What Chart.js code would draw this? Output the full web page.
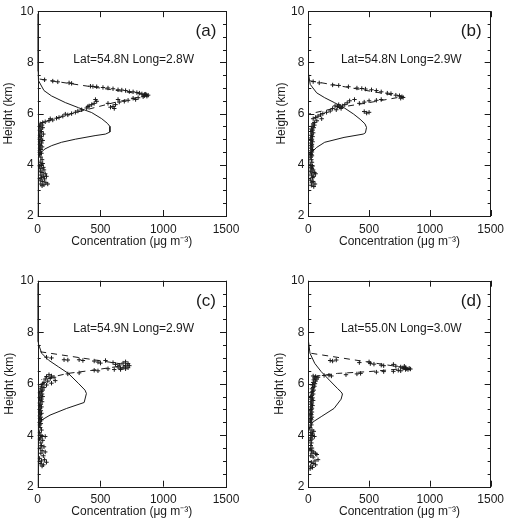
<!DOCTYPE html>
<html>
<head>
<meta charset="utf-8">
<script src="https://cdn.jsdelivr.net/npm/chart.js@4.4.1/dist/chart.umd.min.js"></script>
<style>
  body { margin: 0; background: #fff; }
  #wrap { position: relative; width: 510px; height: 520px; }
  canvas { position: absolute; }
</style>
</head>
<body>
<div id="wrap">
  <canvas id="pa" width="255" height="260" style="left:0;top:0"></canvas>
  <canvas id="pb" width="255" height="260" style="left:255px;top:0"></canvas>
  <canvas id="pc" width="255" height="260" style="left:0;top:260px"></canvas>
  <canvas id="pd" width="255" height="260" style="left:255px;top:260px"></canvas>
</div>
<script>
// panel tags and site labels
const tags = ['(a)', '(b)', '(c)', '(d)'];
const sites = ['Lat=54.8N Long=2.8W', 'Lat=54.8N Long=2.9W', 'Lat=54.9N Long=2.9W', 'Lat=55.0N Long=3.0W'];
const xTicks = [0, 500, 1000, 1500];
const yTicks = [2, 4, 6, 8, 10];

// solid line: modelled profile [conc, height]
const modelA = [[0,9.9],[0,7.65],[5,7.3],[50,6.9],[110,6.69],[220,6.43],[325,6.23],[430,6.04],[510,5.8],[555,5.62],[575,5.5],[575,5.28],[540,5.2],[457,5.14],[300,5.0],[190,4.88],[112,4.75],[58,4.62],[30,4.5],[5,4.3],[0,2]];
const modelB = [[0,9.9],[0,7.6],[16,7.14],[69,6.81],[135,6.62],[214,6.43],[294,6.23],[373,5.98],[426,5.78],[466,5.6],[479,5.46],[470,5.25],[452,5.2],[294,5.07],[135,4.88],[69,4.68],[29,4.49],[5,4.35],[0,2]];
const modelC = [[0,9.9],[0,7.63],[32,7.18],[85,6.92],[164,6.66],[244,6.4],[323,6.02],[377,5.75],[388,5.62],[370,5.27],[231,5.04],[98,4.78],[32,4.59],[5,4.46],[0,2]];
const modelD = [[0,9.9],[0,7.7],[14,7.18],[53,6.79],[106,6.47],[173,6.14],[239,5.82],[270,5.68],[281,5.6],[270,5.4],[212,5.04],[106,4.72],[40,4.52],[14,4.33],[0,4.1],[0,2]];

// dashed line
const dashA = [[15,7.35],[880,6.72],[600,6.42],[300,6.04],[20,5.63]];
const dashB = [[15,7.28],[775,6.66],[500,6.43],[240,6.23],[0,5.98]];
const dashC = [[20,7.24],[720,6.73],[450,6.53],[240,6.4],[30,6.16]];
const dashD = [[25,7.18],[825,6.6],[500,6.47],[240,6.4],[25,6.27]];

// + observations
const obsA = [[55,7.32],[120,7.27],[160,7.24],[250,7.2],[270,7.18],[420,7.07],[440,7.06],[470,7.05],[520,7.02],[560,7.0],[600,6.97],[640,6.93],[670,6.92],[700,6.9],[730,6.86],[760,6.85],[790,6.82],[810,6.8],[830,6.77],[850,6.75],[865,6.73],[880,6.72],[870,6.68],[850,6.7],[860,6.76],[840,6.66],
  [800,6.62],[780,6.55],[760,6.6],[720,6.52],[690,6.48],[650,6.45],[620,6.35],[600,6.28],[580,6.25],[610,6.2],[560,6.4],[640,6.55],[470,6.48],[450,6.4],[430,6.35],[410,6.3],[400,6.28],[390,6.22],[460,6.55],[350,6.15],[320,6.1],[300,6.05],[270,6.0],[240,5.95],[200,5.9],[170,5.85],[150,5.82],[120,5.75],[90,5.72],[60,5.68],[40,5.65],[100,5.8],[220,5.98],
  [20,5.6],[35,5.55],[15,5.5],[40,5.45],[25,5.4],[10,5.35],[30,5.3],[20,5.25],[45,5.2],[15,5.15],[30,5.1],[10,5.05],[25,5.0],[40,4.95],[15,4.9],[30,4.85],[10,4.8],[20,4.75],[35,4.7],[15,4.65],[25,4.6],[10,4.55],[20,4.5],[30,4.45],[15,4.4],[25,4.3],[35,4.2],[20,4.1],[40,4.05],[30,4.0],[15,3.95],[45,3.9],[25,3.85],[50,3.8],[20,3.75],[35,3.7],[60,3.65],[25,3.6],[45,3.55],[70,3.55],[30,3.5],[55,3.45],[20,3.4],[40,3.35],[65,3.3],[25,3.25],[50,3.22],[80,3.25],[35,3.18]];
const obsB = [[40,7.25],[90,7.2],[200,7.12],[250,7.1],[330,7.05],[400,7.0],[440,6.98],[470,6.96],[520,6.93],[560,6.9],[600,6.85],[650,6.8],[680,6.78],[720,6.72],[750,6.7],[770,6.66],[780,6.63],[760,6.6],
  [600,6.55],[560,6.52],[500,6.5],[460,6.45],[420,6.4],[320,6.42],[340,6.5],[380,6.55],[300,6.35],[280,6.3],[260,6.25],[240,6.28],[220,6.3],[200,6.2],[230,6.15],[270,6.2],[250,6.35],[460,6.08],[480,6.02],[500,6.05],[180,6.1],[150,6.05],[120,6.0],[100,5.95],[80,5.9],[60,5.85],[110,5.8],[40,5.8],[70,5.72],[50,5.65],
  [40,5.6],[50,5.55],[30,5.5],[45,5.45],[25,5.4],[35,5.35],[20,5.3],[40,5.25],[30,5.2],[25,5.15],[35,5.1],[20,5.05],[30,5.0],[25,4.95],[35,4.9],[20,4.85],[30,4.8],[25,4.75],[30,4.7],[20,4.65],[35,4.6],[25,4.55],[30,4.5],[20,4.45],[25,4.4],[30,4.35],[20,4.3],[25,4.2],[30,4.1],[20,4.0],[35,3.95],[25,3.9],[30,3.85],[40,3.8],[20,3.75],[50,3.7],[30,3.68],[60,3.65],[25,3.6],[45,3.55],[35,3.5],[20,3.4],[40,3.35],[30,3.3],[55,3.25],[25,3.2],[45,3.15]];
const obsC = [[70,7.03],[110,7.0],[210,6.93],[240,6.92],[330,6.93],[360,6.9],[450,6.88],[480,6.84],[500,6.8],[540,6.9],[600,6.82],[620,6.75],[650,6.72],[680,6.8],[700,6.85],[720,6.78],[730,6.7],[700,6.68],[680,6.62],[660,6.6],[640,6.65],[700,6.58],[720,6.62],[660,6.55],[610,6.55],[560,6.58],[480,6.5],[450,6.52],[330,6.42],[240,6.38],
  [90,6.35],[110,6.3],[70,6.28],[130,6.25],[100,6.2],[60,6.18],[140,6.12],[80,6.1],[50,6.05],[110,6.02],[40,6.0],[70,5.95],[30,5.9],[50,5.85],[20,5.8],[40,5.75],[30,5.7],[15,5.65],[35,5.6],[25,5.55],[40,5.5],[15,5.45],[30,5.4],[20,5.35],[35,5.3],[10,5.25],[25,5.2],[15,5.15],[30,5.1],[20,5.05],[10,5.0],[25,4.95],[15,4.9],[30,4.85],[20,4.8],[10,4.75],[25,4.7],[15,4.65],[30,4.6],[20,4.55],[10,4.5],[25,4.45],[15,4.4],[20,4.3],[30,4.2],[15,4.1],[25,4.0],[35,3.95],[20,3.9],[60,3.95],[15,3.85],[40,3.8],[25,3.7],[30,3.6],[50,3.55],[20,3.5],[35,3.4],[60,3.35],[25,3.3],[45,3.2],[15,3.1],[55,3.05],[30,3.0],[70,2.95],[20,2.9],[45,2.85],[35,2.8]];
const obsD = [[180,6.9],[200,6.88],[230,6.92],[420,6.82],[500,6.85],[510,6.78],[540,6.76],[600,6.72],[620,6.7],[700,6.75],[720,6.68],[760,6.65],[790,6.68],[800,6.62],[810,6.58],[820,6.55],[830,6.6],[800,6.55],[840,6.57],[780,6.6],
  [130,6.32],[170,6.33],[190,6.3],[310,6.35],[400,6.38],[430,6.4],[560,6.45],[620,6.47],[700,6.48],[740,6.52],[760,6.5],
  [40,6.3],[60,6.28],[80,6.25],[50,6.22],[70,6.18],[45,6.15],[60,6.1],[40,6.05],[55,6.0],[35,5.95],[50,5.9],[40,5.85],[30,5.8],[45,5.75],[35,5.7],[25,5.65],[40,5.6],[30,5.55],[20,5.5],[35,5.45],[25,5.4],[40,5.35],[20,5.3],[30,5.25],[25,5.2],[35,5.15],[20,5.1],[30,5.05],[25,5.0],[15,4.95],[30,4.9],[20,4.85],[25,4.8],[15,4.75],[30,4.7],[20,4.65],[25,4.6],[15,4.55],[20,4.5],[25,4.4],[15,4.3],[30,4.2],[45,4.15],[20,4.1],[35,4.05],[25,4.0],[50,3.95],[20,3.9],[30,3.85],[15,3.8],[25,3.7],[20,3.6],[30,3.5],[15,3.45],[25,3.4],[45,3.35],[30,3.3],[60,3.28],[70,3.25],[20,3.2],[40,3.15],[80,3.05],[55,3.0],[25,2.95],[40,2.9],[60,2.85],[20,2.8],[35,2.75],[15,2.7]];

const models = [modelA, modelB, modelC, modelD];
const dashes = [dashA, dashB, dashC, dashD];
const obs = [obsA, obsB, obsC, obsD];

// layout per panel: padding and axis box sizes so the plot frames line up
const layouts = [
  { pad: { left: 1, top: 9.5, right: 29, bottom: 11 }, yw: 36.7, xh: 33 },
  { pad: { left: 19.5, top: 9.5, right: 13, bottom: 11 }, yw: 33.8, xh: 33 },
  { pad: { left: 2.8, top: 20.7, right: 29, bottom: 1.1 }, yw: 34.9, xh: 32.2 },
  { pad: { left: 17.8, top: 20.7, right: 13, bottom: 1.1 }, yw: 35.5, xh: 32.2 }
];

const FONT = "'Liberation Sans', Arial, sans-serif";
const INK = '#1a1a1a';
const toPts = arr => arr.map(p => ({ x: p[0], y: p[1] }));

const framePlugin = {
  id: 'frame',
  afterDatasetsDraw(chart, args, opts) {
    const { ctx, chartArea: a, scales: { x, y } } = chart;
    ctx.save();
    ctx.strokeStyle = INK;
    ctx.lineWidth = 1;
    ctx.strokeRect(Math.round(a.left) + 0.5, Math.round(a.top) + 0.5, Math.round(a.right - a.left), Math.round(a.bottom - a.top));
    ctx.beginPath();
    xTicks.forEach(v => {
      const px = Math.round(x.getPixelForValue(v)) + 0.5;
      ctx.moveTo(px, a.bottom); ctx.lineTo(px, a.bottom - 6);
      ctx.moveTo(px, a.top); ctx.lineTo(px, a.top + 6);
    });
    for (let v = 2; v <= 10; v += 0.5) {
      const py = Math.round(y.getPixelForValue(v)) + 0.5;
      const len = v % 2 === 0 ? 6 : 3;
      ctx.moveTo(a.left, py); ctx.lineTo(a.left + len, py);
      ctx.moveTo(a.right, py); ctx.lineTo(a.right - len, py);
    }
    ctx.stroke();

    ctx.fillStyle = INK;
    ctx.textAlign = 'center';
    ctx.textBaseline = 'middle';
    ctx.font = '17px ' + FONT;
    ctx.fillText(opts.tag, x.getPixelForValue(1340), y.getPixelForValue(9.2));
    ctx.font = '12px ' + FONT;
    ctx.fillText(opts.site, x.getPixelForValue(765), y.getPixelForValue(8.12));
    ctx.restore();
  }
};

function makePanel(id, i) {
  const lay = layouts[i];
  new Chart(document.getElementById(id), {
    type: 'scatter',
    data: {
      datasets: [
        { data: toPts(models[i]), showLine: true, borderColor: INK, borderWidth: 1, pointRadius: 0, fill: false },
        { data: toPts(dashes[i]), showLine: true, borderColor: INK, borderWidth: 1, borderDash: [6, 5], pointRadius: 0, fill: false },
        { data: toPts(obs[i]), showLine: false, pointStyle: 'cross', pointRadius: 2.2, borderColor: INK, borderWidth: 1 }
      ]
    },
    options: {
      responsive: false,
      animation: false,
      events: [],
      layout: { padding: lay.pad },
      plugins: {
        legend: { display: false },
        tooltip: { enabled: false },
        frame: { tag: tags[i], site: sites[i] }
      },
      scales: {
        x: {
          type: 'linear', min: 0, max: 1500,
          afterBuildTicks: s => { s.ticks = xTicks.map(v => ({ value: v })); },
          afterFit: s => { s.height = lay.xh; },
          grid: { display: false, drawTicks: false },
          border: { display: false },
          ticks: { padding: 6, color: INK, font: { family: FONT, size: 12 }, callback: v => String(v) },
          title: { display: true, text: 'Concentration (\u03bcg m\u207b\u00b3)', color: INK, padding: 0, font: { family: FONT, size: 12 } }
        },
        y: {
          type: 'linear', min: 2, max: 10,
          afterBuildTicks: s => { s.ticks = yTicks.map(v => ({ value: v })); },
          afterFit: s => { s.width = lay.yw; },
          grid: { display: false, drawTicks: false },
          border: { display: false },
          ticks: { padding: 4, color: INK, font: { family: FONT, size: 12 }, callback: v => String(v) },
          title: { display: true, text: 'Height (km)', color: INK, padding: 0, font: { family: FONT, size: 12 } }
        }
      }
    },
    plugins: [framePlugin]
  });
}

['pa', 'pb', 'pc', 'pd'].forEach(makePanel);
</script>
</body>
</html>
